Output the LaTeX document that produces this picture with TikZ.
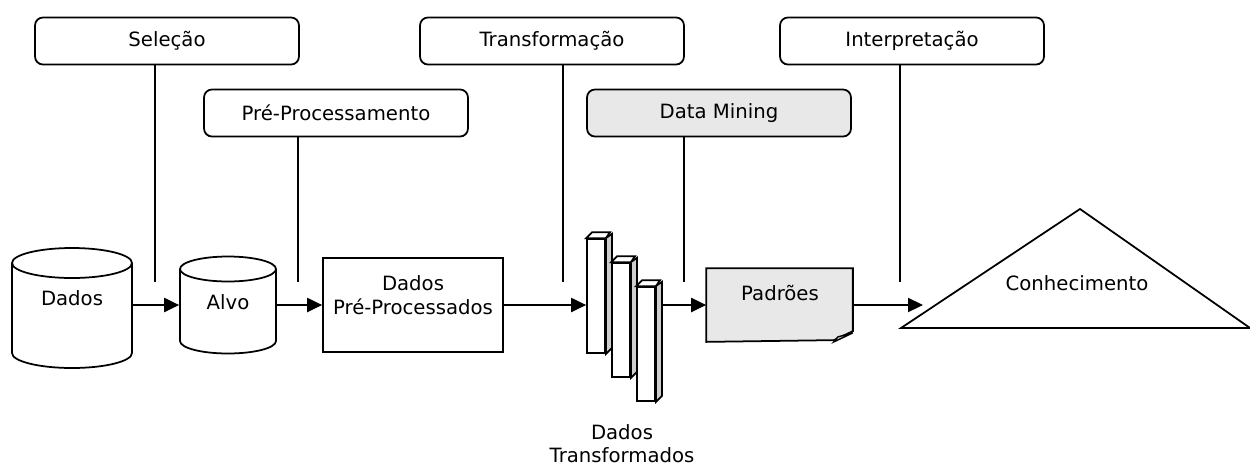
\documentclass[tikz,border=0pt]{standalone}
\usepackage{fontspec}
\setmainfont{DejaVu Sans}
\usetikzlibrary{arrows.meta}
\definecolor{cinza}{RGB}{232,232,232}
\definecolor{lateral}{RGB}{205,205,205}

\begin{document}
\begin{tikzpicture}[x=0.02cm,y=-0.02cm,line width=1pt,
	font=\fontsize{11.2}{14}\selectfont,
	etapa/.style={draw,rounded corners=4.5pt,inner sep=0pt,minimum width=5.28cm,minimum height=0.94cm},
	corpo/.style={inner sep=0pt,minimum height=1.2cm},
	seta/.style={-{Triangle[length=8.5pt,width=8pt]}}]
	\useasboundingbox (0,0) rectangle (1250,467);

	% etapas do processo
	\node[etapa] at (167,41)(sel){Seleção};
	\node[etapa] at (336,113)(pre){Pré-Processamento};
	\node[etapa] at (552,41)(transf){Transformação};
	\node[etapa,fill=cinza] at (719,113)(dm){Data Mining};
	\node[etapa] at (912,41)(interp){Interpretação};

	% cilindros
	\draw (12,263) -- (12,353) arc[start angle=180,end angle=360,x radius=1.2cm,y radius=0.3cm] -- (132,263);
	\draw (72,263) ellipse[x radius=1.2cm,y radius=0.3cm];
	\node[corpo,minimum width=2.4cm] at (72,305)(dados){};
	\node at (72,298)(dadostxt){Dados};

	\draw (180,269) -- (180,341) arc[start angle=180,end angle=360,x radius=0.96cm,y radius=0.25cm] -- (276,269);
	\draw (228,269) ellipse[x radius=0.96cm,y radius=0.25cm];
	\node[corpo,minimum width=1.92cm] at (228,305)(alvo){};
	\node at (228,302)(alvotxt){Alvo};

	\node[draw,corpo,minimum width=3.6cm,minimum height=1.88cm] at (413,305)(pdados){};
	\node[align=center] at (413,295)(pdadostxt){Dados\\Pré-Processados};

	% dados transformados
	\foreach \n/\x/\y in {t1/596/296,t2/621/320,t3/646/344}{
		\node[draw,fill=white,corpo,minimum width=0.36cm,minimum height=2.28cm] at (\x,\y)(\n){};
		\filldraw[fill=white] (\n.north west) -- ++(6,-6) -- ++(18,0) -- (\n.north east) -- cycle;
		\filldraw[fill=lateral] (\n.south east) -- ++(6,-6) -- ++(0,-114) -- (\n.north east) -- cycle;
	}
	\node[align=center,font=\fontsize{11.2}{13}\selectfont] at (622,444)(transftxt){Dados\\Transformados};

	% padroes (folha com canto dobrado)
	\node[corpo,minimum width=2.9cm,minimum height=1.44cm] at (779.5,305)(padroes){};
	\filldraw[fill=cinza] (padroes.north west) -- (padroes.north east) -- ++(0,63) -- ++(-19,9) -- (padroes.south west) -- cycle;
	\coordinate (dobra) at ([xshift=-0.38cm]padroes.south east);
	\filldraw[fill=lateral,line width=0.8pt] (dobra) -- ++(19,-9) -- ++(-15,4) -- cycle;
	\node at (780,293)(padroestxt){Padrões};

	% conhecimento
	\draw (901,328) -- (1080,209) -- (1250,328) -- cycle;
	\node at (1077,283)(conh){Conhecimento};
	\coordinate (kin) at (923,305);

	% fluxo
	\draw[seta] (dados) -- (alvo);
	\draw[seta] (alvo) -- (pdados);
	\draw[seta] (pdados.east) -- (t1.west |- pdados.east);
	\draw[seta] ([xshift=0.12cm]t3.east |- padroes.west) -- (padroes.west);
	\draw[seta] (padroes) -- (kin);

	% ligacoes das etapas
	\coordinate (selfim) at (155,282);
	\coordinate (prefim) at (298,282);
	\coordinate (transffim) at (563,282);
	\coordinate (dmfim) at (684,282);
	\coordinate (interpfim) at (900,282);
	\draw (sel.south -| selfim) -- (selfim);
	\draw (pre.south -| prefim) -- (prefim);
	\draw (transf.south -| transffim) -- (transffim);
	\draw (dm.south -| dmfim) -- (dmfim);
	\draw (interp.south -| interpfim) -- (interpfim);

\end{tikzpicture}
\end{document}
